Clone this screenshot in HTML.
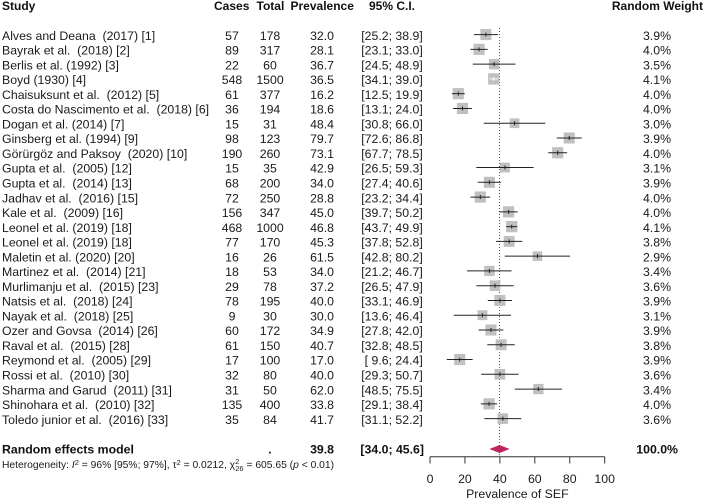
<!DOCTYPE html>
<html lang="en">
<head>
<meta charset="utf-8">
<title>Forest plot of SEF prevalence</title>
<style>
html,body{margin:0;padding:0;background:#fff;width:704px;height:499px;overflow:hidden}
svg{display:block;filter:blur(0.3px)}
text{font-family:"Liberation Sans",Arial,sans-serif;font-size:12.3px;fill:#1a1a1a;white-space:pre}
.b{font-weight:bold;fill:#111}
.h{font-weight:bold;fill:#111;font-size:12px}
</style>
</head>
<body>
<svg id="chart" width="704" height="499" viewBox="0 0 704 499" xmlns="http://www.w3.org/2000/svg">
  <text class="h" x="2" y="10">Study</text>
  <text class="h" x="214" y="10">Cases</text>
  <text class="h" x="256.5" y="10">Total</text>
  <text class="h" x="290.5" y="10">Prevalence</text>
  <text class="h" x="369" y="10">95% C.I.</text>
  <text class="h" x="703" y="10" text-anchor="end">Random Weight</text>
  <text x="2" y="468" style="font-size:10.3px">Heterogeneity: <tspan font-style="italic">I</tspan><tspan dy="-3" style="font-size:7.5px">2</tspan><tspan dy="3"> = 96% [95%; 97%], τ</tspan><tspan dy="-3" style="font-size:7.5px">2</tspan><tspan dy="3"> = 0.0212, χ</tspan><tspan dy="-4" dx="0" style="font-size:7.5px">2</tspan><tspan dy="7" dx="-4" style="font-size:7.5px">26</tspan><tspan dy="-3"> = 605.65 (</tspan><tspan font-style="italic">p</tspan><tspan> &lt; 0.01)</tspan></text>
  <g id="plot"></g>
</svg>
<script>
const studies = ["Alves and Deana  (2017) [1]","Bayrak et al.  (2018) [2]","Berlis et al. (1992) [3]","Boyd (1930) [4]","Chaisuksunt et al.  (2012) [5]","Costa do Nascimento et al.  (2018) [6]","Dogan et al. (2014) [7]","Ginsberg et al. (1994) [9]","Görürgöz and Paksoy  (2020) [10]","Gupta et al.  (2005) [12]","Gupta et al.  (2014) [13]","Jadhav et al.  (2016) [15]","Kale et al.  (2009) [16]","Leonel et al. (2019) [18]","Leonel et al. (2019) [18]","Maletin et al. (2020) [20]","Martinez et al.  (2014) [21]","Murlimanju et al.  (2015) [23]","Natsis et al.  (2018) [24]","Nayak et al.  (2018) [25]","Ozer and Govsa  (2014) [26]","Raval et al.  (2015) [28]","Reymond et al.  (2005) [29]","Rossi et al.  (2010) [30]","Sharma and Garud  (2011) [31]","Shinohara et al.  (2010) [32]","Toledo junior et al.  (2016) [33]"];
const cases = [57,89,22,548,61,36,15,98,190,15,68,72,156,468,77,16,18,29,78,9,60,61,17,32,31,135,35];
const totals = [178,317,60,1500,377,194,31,123,260,35,200,250,347,1000,170,26,53,78,195,30,172,150,100,80,50,400,84];
const prevalence = [32.0,28.1,36.7,36.5,16.2,18.6,48.4,79.7,73.1,42.9,34.0,28.8,45.0,46.8,45.3,61.5,34.0,37.2,40.0,30.0,34.9,40.7,17.0,40.0,62.0,33.8,41.7];
const ciLow = [25.2,23.1,24.5,34.1,12.5,13.1,30.8,72.6,67.7,26.5,27.4,23.2,39.7,43.7,37.8,42.8,21.2,26.5,33.1,13.6,27.8,32.8,9.6,29.3,48.5,29.1,31.1];
const ciHigh = [38.9,33.0,48.9,39.0,19.9,24.0,66.0,86.8,78.5,59.3,40.6,34.4,50.2,49.9,52.8,80.2,46.7,47.9,46.9,46.4,42.0,48.5,24.4,50.7,75.5,38.4,52.2];
const weights = [3.9,4.0,3.5,4.1,4.0,4.0,3.0,3.9,4.0,3.1,3.9,4.0,4.0,4.1,3.8,2.9,3.4,3.6,3.9,3.1,3.9,3.8,3.9,3.6,3.4,4.0,3.6];
const pooledLabel = "Random effects model";
const pooledValue = [39.8];
const pooledLow = [34.0];
const pooledHigh = [45.6];
const pooledWeight = ["100.0%"];
const xTicks = [0,20,40,60,80,100];
const xAxisTitle = "Prevalence of SEF";

const NS = "http://www.w3.org/2000/svg";
const plot = document.getElementById("plot");
const xScale = v => 430 + v * 1.747;
const yRow = i => 34.6 + i * 14.77;
const yPooled = 449;

function mk(tag, attrs, parent) {
  const el = document.createElementNS(NS, tag);
  for (const k in attrs) el.setAttribute(k, attrs[k]);
  (parent || plot).appendChild(el);
  return el;
}
function label(x, y, str, anchor, cls, parent) {
  const t = mk("text", {x: x, y: y + 5.2, "text-anchor": anchor}, parent);
  if (cls) t.setAttribute("class", cls);
  t.textContent = str;
  return t;
}
function ciText(lo, hi) {
  const a = lo.toFixed(1);
  return "[" + (a.length < 4 ? " " + a : a) + "; " + hi.toFixed(1) + "]";
}

/* reference line at pooled estimate */
const refLine = mk("line", {x1: xScale(pooledValue[0]), x2: xScale(pooledValue[0]), y1: 28, y2: 457, stroke: "#444", "stroke-width": 0.9, "stroke-dasharray": "1 2"});



studies.forEach((name, i) => {
  const y = yRow(i);
  const g = mk("g", {});
  
  
  label(2, y, name, "start", null, g);
  label(232, y, String(cases[i]), "middle", null, g);
  label(270, y, String(totals[i]), "middle", null, g);
  label(334, y, prevalence[i].toFixed(1), "end", null, g);
  label(422.8, y, ciText(ciLow[i], ciHigh[i]), "end", null, g);
  label(671, y, weights[i].toFixed(1) + "%", "end", null, g);

  const s = 5.6 * Math.sqrt(weights[i]);
  const cx = xScale(prevalence[i]);
  const sq = mk("rect", {x: cx - s / 2, y: y - s / 2, width: s, height: s, fill: "#c0c0c0"}, g);
  
  

  const inside = xScale(ciLow[i]) >= cx - s / 2 + 1 && xScale(ciHigh[i]) <= cx + s / 2 - 1;
  const col = inside ? "#fff" : "#222";
  const ci = mk("line", {x1: xScale(ciLow[i]), x2: xScale(ciHigh[i]), y1: y, y2: y, stroke: col, "stroke-width": 1}, g);
  
  
  const pt = mk("line", {x1: cx, x2: cx, y1: y - 2, y2: y + 2, stroke: col, "stroke-width": 1}, g);
  
  
});

/* pooled row */
const pg = mk("g", {});


label(2, yPooled - 0.8, pooledLabel, "start", "b", pg);
label(270, yPooled - 0.8, ".", "middle", "b", pg);
label(334, yPooled - 0.8, pooledValue[0].toFixed(1), "end", "b", pg);
label(424, yPooled - 0.8, ciText(pooledLow[0], pooledHigh[0]), "end", "b", pg);
label(678, yPooled - 0.8, pooledWeight[0], "end", "b", pg);
const diamond = mk("polygon", {
  points: [[xScale(pooledLow[0]), yPooled], [xScale(pooledValue[0]), yPooled - 4], [xScale(pooledHigh[0]), yPooled], [xScale(pooledValue[0]), yPooled + 4]].map(p => p.join(",")).join(" "),
  fill: "#bd2560"
}, pg);



/* x axis */
const ag = mk("g", {});


mk("line", {x1: xScale(xTicks[0]), x2: xScale(xTicks[xTicks.length - 1]), y1: 456.7, y2: 456.7, stroke: "#333", "stroke-width": 1}, ag);
xTicks.forEach(v => {
  mk("line", {x1: xScale(v), x2: xScale(v), y1: 456.7, y2: 463.5, stroke: "#333", "stroke-width": 1}, ag);
  const t = label(xScale(v), 477.6, String(v), "middle", null, ag);
  
  
});
const axT = label(xScale(50), 492.6, xAxisTitle, "middle", null, ag);


</script>
</body>
</html>
